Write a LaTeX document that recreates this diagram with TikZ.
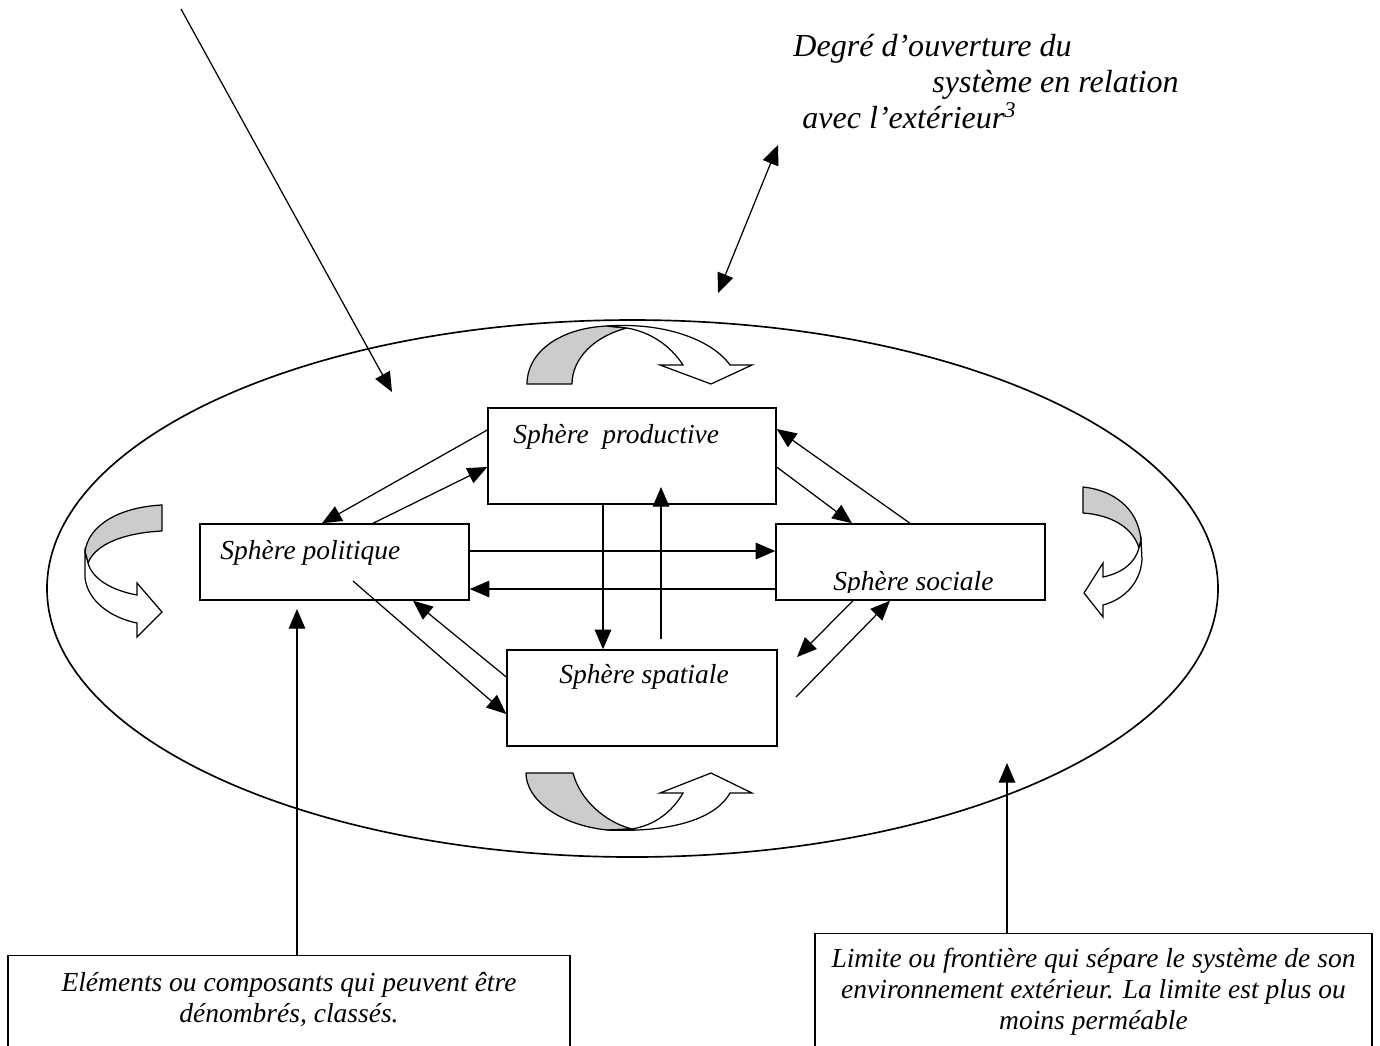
\documentclass[tikz,border=0pt]{standalone}
\usepackage{fontspec}
\setmainfont{Liberation Serif}
\usetikzlibrary{arrows.meta,shapes.geometric}

\begin{document}
\begin{tikzpicture}[x=0.017cm, y=-0.017cm,
        sphere/.style={rectangle, draw, line width=0.7pt, inner sep=0pt},
        note/.style={rectangle, draw, line width=0.6pt, inner sep=0pt},
        label/.style={font=\itshape\fontsize{13.3}{15}\selectfont, inner sep=0pt},
        biglabel/.style={font=\itshape\fontsize{15.5}{18}\selectfont, inner sep=0pt},
        arrow/.style={-{Triangle[length=9.5pt, width=8pt]}, line width=0.6pt},
        twoway/.style={{Triangle[length=9.5pt, width=8pt]}-{Triangle[length=9.5pt, width=8pt]}, line width=0.6pt},
        turnback/.style={draw, fill=black!20, line width=0.6pt, line join=round},
        turnfront/.style={draw, fill=white, line width=0.6pt}
    ]
    \useasboundingbox (0,0) rectangle (1380,1045);
    \clip (0,0) rectangle (1380,1045);

    % System boundary
    \node[draw, ellipse, line width=0.8pt, minimum width=1171*0.017cm, minimum height=537*0.017cm] (sys) at (632.5,588.5) {};

    % Spheres
    \node[sphere, minimum width=288*0.017cm, minimum height=96*0.017cm] (prod) at (632,456) {};
    \node[sphere, minimum width=269*0.017cm, minimum height=76*0.017cm] (pol) at (334.5,562) {};
    \node[sphere, minimum width=269*0.017cm, minimum height=76*0.017cm] (soc) at (910.5,562) {};
    \node[sphere, minimum width=270*0.017cm, minimum height=96*0.017cm] (spa) at (642,698) {};

    \node[label, anchor=base west] (prodtxt) at (513,443) {Sphère\ \ productive};
    \node[label, anchor=base west] (poltxt) at (220,559) {Sphère politique};
    \node[label, anchor=base west] (spatxt) at (559,683) {Sphère spatiale};
    \begin{scope}
        \clip (776,524) rectangle (1045,592);
        \node[label, anchor=base west] (soctxt) at (833,590) {Sphère sociale};
    \end{scope}

    % Free ends
    \coordinate (top) at (181,9);
    \coordinate (inside) at (392,392);
    \coordinate (ext1) at (778,145);
    \coordinate (ext2) at (718,293);
    \coordinate (up1) at (661,639);
    \coordinate (up2) at (661,487);
    \coordinate (dn1) at (353,581);
    \coordinate (sw1) at (797,657);
    \coordinate (sw2) at (796,697);
    \coordinate (elemtip) at (297,609);
    \coordinate (limtip) at (1007,763);

    % Links between spheres
    \draw[arrow] (prod.west |- 0,430) -- (pol.north -| 322,0);
    \draw[arrow] (pol.north -| 373,0) -- (prod.west |- 0,467);
    \draw[arrow] (pol.east |- 0,551) -- (soc.west |- 0,551);
    \draw[arrow] (soc.west |- 0,589) -- (pol.east |- 0,589);
    \draw[arrow] (prod.south -| 603,0) -- (spa.north -| 603,0);
    \draw[arrow] (up1) -- (up2);
    \draw[arrow] (dn1) -- (spa.west |- 0,714);
    \draw[arrow] (spa.west |- 0,677) -- (pol.south -| 413,0);
    \draw[arrow] (prod.east |- 0,467) -- (soc.north -| 852,0);
    \draw[arrow] (soc.north -| 910,0) -- (prod.east |- 0,429);
    \draw[arrow] (soc.south -| 853,0) -- (sw1);
    \draw[arrow] (sw2) -- (soc.south -| 890,0);

    % Pointer and opening
    \draw[arrow] (top) -- (inside);
    \draw[twoway] (ext2) -- (ext1);
    \node[biglabel, anchor=base west] (deg1) at (793,56) {Degré d’ouverture du};
    \node[biglabel, anchor=base west] (deg2) at (932,92) {système en relation};
    \node[biglabel, anchor=base west] (deg3) at (802,128) {avec l’extérieur\textsuperscript{3}};

    % Turning arrows - top
    \path[turnback] (527,384) .. controls (527,352) and (560,328) .. (607,326) -- (627,328)
        .. controls (595,336) and (572,358) .. (572,384) -- cycle;
    \path[turnfront] (607,326) .. controls (665,322) and (712,340) .. (730,365) -- (752,365) -- (711,384)
        -- (660,365) -- (683,365) .. controls (670,345) and (650,332) .. (627,328) -- cycle;
    % bottom
    \path[turnback] (526,773) -- (573,773) .. controls (580,800) and (605,822) .. (632,829) -- (607,830)
        .. controls (560,825) and (526,800) .. (526,773) -- cycle;
    \path[turnfront] (607,830) .. controls (680,833) and (718,815) .. (730,793) -- (752,793) -- (711,773)
        -- (660,793) -- (683,793) .. controls (672,812) and (655,825) .. (632,829) -- cycle;
    % left
    \path[turnback] (162,505) -- (162,531) .. controls (122,533) and (95,545) .. (88,563) -- (85,552)
        .. controls (88,525) and (120,507) .. (162,505) -- cycle;
    \path[turnfront] (85,552) -- (85,578) .. controls (88,602) and (112,618) .. (137,623) -- (137,637) -- (162,612)
        -- (137,583) -- (137,595) .. controls (110,590) and (92,578) .. (88,563) -- cycle;
    % right
    \path[turnback] (1083,487) -- (1083,513) .. controls (1112,515) and (1133,528) .. (1139,548) -- (1141,540)
        .. controls (1138,508) and (1113,490) .. (1083,487) -- cycle;
    \path[turnfront] (1141,540) -- (1142,560) .. controls (1140,585) and (1122,600) .. (1103,605) -- (1103,617)
        -- (1084,593) -- (1103,563) -- (1103,577) .. controls (1122,573) and (1135,563) .. (1139,548) -- cycle;

    % Notes
    \node[note, minimum width=562*0.017cm, minimum height=120*0.017cm, anchor=north] (elem) at (289,955) {};
    \node[label, align=center] (elemtxt) at (289,1000) {Eléments ou composants qui peuvent être\\dénombrés, classés.};
    \node[note, minimum width=557*0.017cm, minimum height=140*0.017cm, anchor=north] (lim) at (1093.5,933) {};
    \node[label, align=center] (limtxt) at (1093.5,992) {Limite ou frontière qui sépare le système de son\\environnement extérieur. La limite est plus ou\\moins perméable};
    \draw[arrow] (elem.north -| elemtip) -- (elemtip);
    \draw[arrow] (lim.north -| limtip) -- (limtip);

\end{tikzpicture}
\end{document}
